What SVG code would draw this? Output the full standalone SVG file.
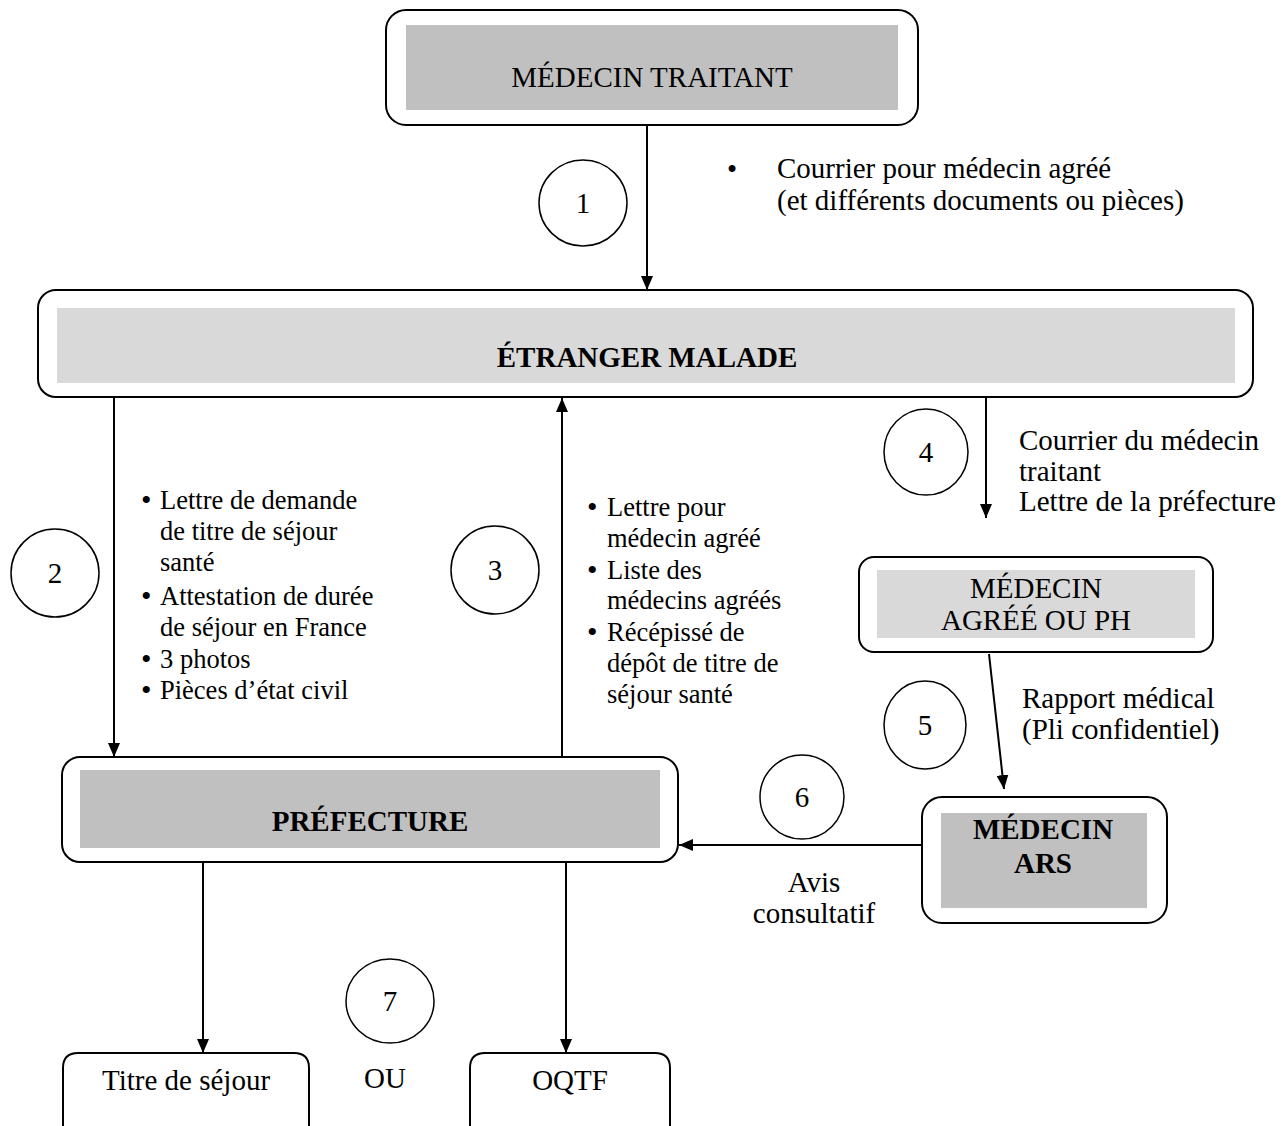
<svg xmlns="http://www.w3.org/2000/svg" width="1285" height="1126" viewBox="0 0 1285 1126">
<style>
.box{fill:#fff;stroke:#000;stroke-width:2}
.g1{fill:#c0c0c0}
.g2{fill:#d9d9d9}
.t{font-family:"Liberation Serif","Times New Roman",serif;font-size:29px;fill:#000}
.s{font-size:26.5px}
.bl{font-size:30px}
.b{font-weight:bold}
.m{text-anchor:middle}
.num{fill:none;stroke:#000;stroke-width:1.5}
.c{stroke:#000;stroke-width:2;fill:none}
</style>
<defs>
<marker id="ah" viewBox="0 0 14 12" refX="14" refY="6" markerWidth="14" markerHeight="12" markerUnits="userSpaceOnUse" orient="auto">
<path d="M0,0 L14,6 L0,12 z" fill="#000"/>
</marker>
</defs>
<rect width="1285" height="1126" fill="#fff"/>

<g id="connectors">
<line class="c" x1="647" y1="125" x2="647" y2="290" marker-end="url(#ah)"/>
<line class="c" x1="114" y1="397" x2="114" y2="757" marker-end="url(#ah)"/>
<line class="c" x1="562" y1="757" x2="562" y2="398" marker-end="url(#ah)"/>
<line class="c" x1="986" y1="397" x2="986" y2="518" marker-end="url(#ah)"/>
<line class="c" x1="989" y1="654" x2="1004" y2="789" marker-end="url(#ah)" stroke-width="1.5"/>
<line class="c" x1="923" y1="845" x2="679" y2="845" marker-end="url(#ah)"/>
<line class="c" x1="203" y1="862" x2="203" y2="1053" marker-end="url(#ah)"/>
<line class="c" x1="566" y1="862" x2="566" y2="1053" marker-end="url(#ah)"/>
</g>

<g id="medecin-traitant">
<rect class="box" x="386" y="10" width="532" height="115" rx="20"/>
<rect class="g1" x="406" y="25" width="492" height="85"/>
<text class="t m" x="652" y="87">MÉDECIN TRAITANT</text>
</g>

<g id="etranger-malade">
<rect class="box" x="38" y="290" width="1215" height="107" rx="18"/>
<rect class="g2" x="57" y="308" width="1178" height="75"/>
<text class="t b m" x="647" y="367">ÉTRANGER MALADE</text>
</g>

<g id="prefecture">
<rect class="box" x="62" y="757" width="616" height="105" rx="18"/>
<rect class="g1" x="80" y="770" width="580" height="78"/>
<text class="t b m" x="370" y="831">PRÉFECTURE</text>
</g>

<g id="medecin-agree">
<rect class="box" x="859" y="557" width="354" height="95" rx="15"/>
<rect class="g2" x="877" y="570" width="318" height="68"/>
<text class="t m" x="1036" y="598">MÉDECIN</text>
<text class="t m" x="1036" y="630">AGRÉÉ OU PH</text>
</g>

<g id="medecin-ars">
<rect class="box" x="922" y="797" width="245" height="126" rx="20"/>
<rect class="g1" x="941" y="813" width="206" height="95"/>
<text class="t b m" x="1043" y="839">MÉDECIN</text>
<text class="t b m" x="1043" y="873">ARS</text>
</g>

<g id="titre-sejour">
<path class="box" d="M63,1140 V1068 Q63,1053 78,1053 H294 Q309,1053 309,1068 V1140"/>
<text class="t m" x="186" y="1090">Titre de séjour</text>
</g>

<g id="oqtf">
<path class="box" d="M470,1140 V1068 Q470,1053 485,1053 H655 Q670,1053 670,1068 V1140"/>
<text class="t m" x="570" y="1090">OQTF</text>
</g>

<g id="steps">
<ellipse class="num" cx="583" cy="203" rx="44" ry="43"/>
<text class="t m" x="583" y="213">1</text>
<ellipse class="num" cx="55" cy="573" rx="44" ry="44"/>
<text class="t m" x="55" y="583">2</text>
<ellipse class="num" cx="495" cy="570" rx="44" ry="44"/>
<text class="t m" x="495" y="580">3</text>
<ellipse class="num" cx="926" cy="452" rx="42" ry="43"/>
<text class="t m" x="926" y="462">4</text>
<ellipse class="num" cx="925" cy="725" rx="41" ry="44"/>
<text class="t m" x="925" y="735">5</text>
<ellipse class="num" cx="802" cy="797" rx="42" ry="42"/>
<text class="t m" x="802" y="807">6</text>
<ellipse class="num" cx="390" cy="1001" rx="44" ry="42"/>
<text class="t m" x="390" y="1011">7</text>
</g>

<g id="labels">
<text class="t" x="727" y="179">•</text>
<text class="t" x="777" y="178">Courrier pour médecin agréé</text>
<text class="t" x="777" y="210">(et différents documents ou pièces)</text>

<g class="t s">
<text class="bl" x="141" y="510">•</text><text x="160" y="509">Lettre de demande</text>
<text x="160" y="540">de titre de séjour</text>
<text x="160" y="571">santé</text>
<text class="bl" x="141" y="606">•</text><text x="160" y="605">Attestation de durée</text>
<text x="160" y="636">de séjour en France</text>
<text class="bl" x="141" y="669">•</text><text x="160" y="668">3 photos</text>
<text class="bl" x="141" y="700">•</text><text x="160" y="699">Pièces d’état civil</text>

<text class="bl" x="587" y="517">•</text><text x="607" y="516">Lettre pour</text>
<text x="607" y="547">médecin agréé</text>
<text class="bl" x="587" y="580">•</text><text x="607" y="579">Liste des</text>
<text x="607" y="609">médecins agréés</text>
<text class="bl" x="587" y="642">•</text><text x="607" y="641">Récépissé de</text>
<text x="607" y="672">dépôt de titre de</text>
<text x="607" y="703">séjour santé</text>
</g>

<text class="t" x="1019" y="450">Courrier du médecin</text>
<text class="t" x="1019" y="481">traitant</text>
<text class="t" x="1019" y="511">Lettre de la préfecture</text>

<text class="t" x="1022" y="708">Rapport médical</text>
<text class="t" x="1022" y="739">(Pli confidentiel)</text>

<text class="t m" x="814" y="892">Avis</text>
<text class="t m" x="814" y="923">consultatif</text>

<text class="t m" x="385" y="1088">OU</text>
</g>
</svg>
